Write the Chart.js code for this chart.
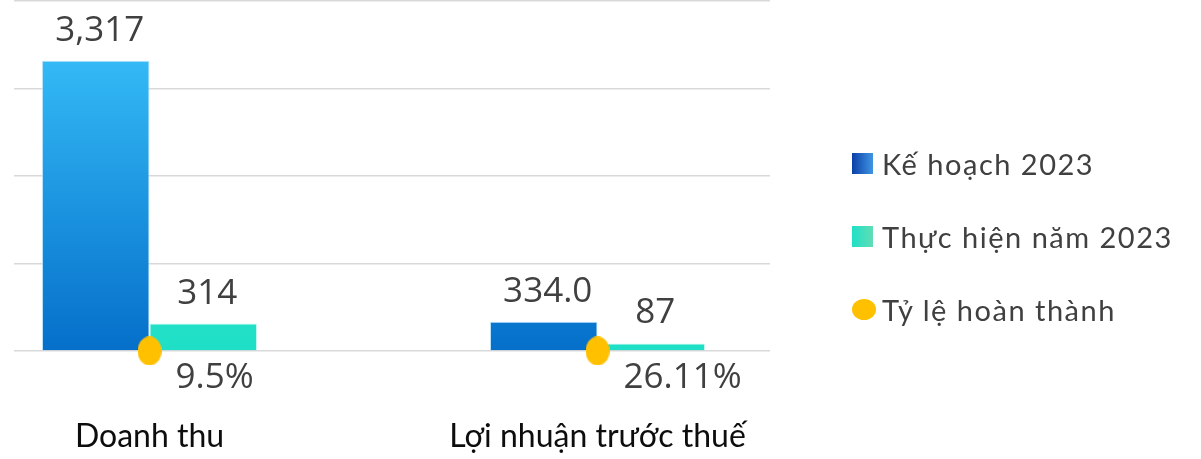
<!DOCTYPE html>
<html lang="vi">
<head>
    <meta charset="UTF-8">
    <title>Kế hoạch và thực hiện năm 2023</title>
    <script src="https://cdn.jsdelivr.net/npm/chart.js"></script>
    <style>
        html, body {
            margin: 0;
            background: #fff;
        }
        .wrap {
            position: relative;
            width: 1201px;
            height: 459px;
        }
        .legend {
            position: absolute;
            left: 852px;
            top: 148px;
            display: flex;
            flex-direction: column;
            gap: 43px;
            font-family: Lato, sans-serif;
            font-size: 29px;
            letter-spacing: 1.5px;
            color: #404040;
        }
        .legend .item {
            display: flex;
            align-items: center;
            height: 30px;
            white-space: nowrap;
        }
        .legend .box {
            width: 21px;
            height: 21px;
            margin-right: 9px;
        }
        .legend .dot {
            width: 24px;
            height: 21px;
            border-radius: 50%;
            margin-right: 6px;
        }
    </style>
</head>
<body>
    <div class="wrap">
        <canvas id="chart"></canvas>
        <div class="legend" id="legend"></div>
    </div>

    <script>
        // Dữ liệu
        const categories = ['Doanh thu', 'Lợi nhuận trước thuế'];
        const keHoach = [3317, 334];          // Kế hoạch 2023
        const thucHien = [314, 87];           // Thực hiện năm 2023
        const tyLe = [9.5, 26.11];            // Tỷ lệ hoàn thành (%)
        const keHoachDecimals = [0, 1];
        const thucHienDecimals = [0, 0];
        const tyLeDecimals = [1, 2];
        const yTicks = [0, 1000, 2000, 3000, 4000];

        const fmt = (v, d) => v.toLocaleString('en-US', { minimumFractionDigits: d, maximumFractionDigits: d });

        function vGrad(chart, top, bottom) {
            const { ctx, chartArea } = chart;
            const g = ctx.createLinearGradient(0, chartArea.top, 0, chartArea.bottom);
            g.addColorStop(0, top);
            g.addColorStop(1, bottom);
            return g;
        }

        // điểm hình elip cho tỷ lệ hoàn thành
        function ellipse(w, h, color) {
            const c = document.createElement('canvas');
            c.width = w;
            c.height = h;
            const x = c.getContext('2d');
            x.fillStyle = color;
            x.beginPath();
            x.ellipse(w / 2, h / 2, w / 2, h / 2, 0, 0, Math.PI * 2);
            x.fill();
            return c;
        }

        // nhãn giá trị
        const valueLabels = {
            id: 'valueLabels',
            afterDatasetsDraw(chart) {
                const ctx = chart.ctx;
                ctx.save();
                ctx.font = '35px "Open Sans"';
                ctx.fillStyle = '#404040';
                ctx.textBaseline = 'alphabetic';
                chart.data.datasets.forEach((ds, di) => {
                    const meta = chart.getDatasetMeta(di);
                    meta.data.forEach((el, i) => {
                        const text = ds.valueText[i];
                        if (meta.type === 'bar') {
                            ctx.textAlign = 'center';
                            ctx.fillText(text, el.x + 4, el.y - 20);
                        } else {
                            ctx.textAlign = 'left';
                            ctx.fillText(text, el.x + 26, el.y + 37);
                        }
                    });
                });
                ctx.restore();
            }
        };

        const ctx = document.getElementById('chart').getContext('2d');
        const chart = new Chart(ctx, {
            type: 'bar',
            data: {
                datasets: [{
                    type: 'line',
                    label: 'Tỷ lệ hoàn thành',
                    data: categories.map((c, i) => ({ x: i, y: tyLe[i] / 100 })),
                    valueText: tyLe.map((v, i) => fmt(v, tyLeDecimals[i]) + '%'),
                    showLine: false,
                    clip: false,
                    pointStyle: ellipse(24, 29, '#FFC000'),
                    pointRadius: 12,
                    backgroundColor: '#FFC000',
                    order: 0
                }, {
                    label: 'Kế hoạch 2023',
                    data: categories.map((c, i) => ({ x: i, y: keHoach[i] })),
                    valueText: keHoach.map((v, i) => fmt(v, keHoachDecimals[i])),
                    backgroundColor: c => c.chart.chartArea ? vGrad(c.chart, '#3DC9FE', '#056FCA') : '#0A7FD6',
                    borderColor: 'rgba(170, 220, 248, 0.8)',
                    borderWidth: 1,
                    barPercentage: 1,
                    categoryPercentage: 0.48,
                    order: 1
                }, {
                    label: 'Thực hiện năm 2023',
                    data: categories.map((c, i) => ({ x: i, y: thucHien[i] })),
                    valueText: thucHien.map((v, i) => fmt(v, thucHienDecimals[i])),
                    backgroundColor: c => c.chart.chartArea ? vGrad(c.chart, '#48ECD2', '#1EDFC6') : '#22E1C7',
                    borderColor: 'rgba(160, 245, 230, 0.6)',
                    borderWidth: 1,
                    barPercentage: 1,
                    categoryPercentage: 0.48,
                    order: 2
                }]
            },
            options: {
                responsive: true,
                maintainAspectRatio: false,
                animation: false,
                layout: {
                    autoPadding: false,
                    padding: { top: 1, left: 14, right: 431, bottom: 0 }
                },
                plugins: {
                    legend: { display: false },
                    tooltip: { enabled: false }
                },
                scales: {
                    x: {
                        type: 'linear',
                        offset: false,
                        min: -0.30246,
                        max: 1.38504,
                        grid: { display: false },
                        border: { display: false },
                        afterBuildTicks: scale => {
                            scale.ticks = categories.map((c, i) => ({ value: i }));
                        },
                        afterFit: scale => {
                            scale.height = 108;
                        },
                        ticks: {
                            padding: 58,
                            maxRotation: 0,
                            autoSkip: false,
                            color: '#0d0d0d',
                            font: { family: 'Lato', size: 32 },
                            callback: v => categories[v]
                        }
                    },
                    y: {
                        min: yTicks[0],
                        max: yTicks[yTicks.length - 1],
                        ticks: { display: false, stepSize: yTicks[1] - yTicks[0] },
                        grid: { color: '#D9D9D9', lineWidth: 1.5, drawTicks: false },
                        border: { display: false }
                    }
                }
            },
            plugins: [valueLabels]
        });

        // chú thích HTML
        const swatches = {
            'Kế hoạch 2023': ['box', 'linear-gradient(90deg, #0B3FA8, #3F95E2)'],
            'Thực hiện năm 2023': ['box', 'linear-gradient(90deg, #1EE0C8, #62DDB4)'],
            'Tỷ lệ hoàn thành': ['dot', '#FFC000']
        };
        const legendOrder = [1, 2, 0];
        document.getElementById('legend').innerHTML = legendOrder.map(i => {
            const label = chart.data.datasets[i].label;
            const [cls, bg] = swatches[label];
            return `<div class="item"><span class="${cls}" style="background:${bg}"></span>${label}</div>`;
        }).join('');
    </script>
</body>
</html>
